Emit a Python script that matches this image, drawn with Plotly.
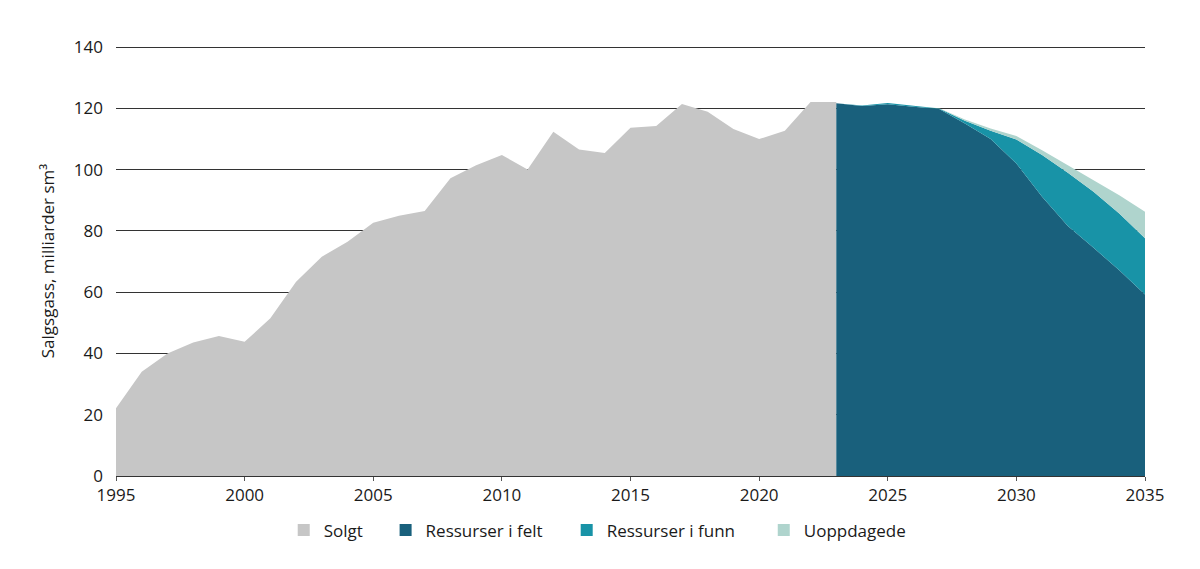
import plotly.graph_objects as go

years_hist = list(range(1995, 2024))
solgt = [22.1, 34.0, 40.0, 43.6, 45.7, 43.8, 51.5, 63.4, 71.6, 76.5,
         82.7, 85.0, 86.5, 97.2, 101.5, 104.8, 100.1, 112.4, 106.6, 105.5,
         113.7, 114.3, 121.5, 118.9, 113.3, 110.0, 112.7, 122.1, 122.1]

years_fut = list(range(2023, 2036))
felt = [121.7, 120.8, 121.4, 120.6, 119.8, 115.1, 110.0, 102.0, 91.2, 81.6, 74.5, 67.2, 59.3]
funn = [0.0, 0.2, 0.4, 0.3, 0.2, 0.9, 2.7, 7.9, 13.6, 17.4, 18.3, 18.5, 18.3]
uoppdagede = [0.0, 0.0, 0.0, 0.0, 0.1, 0.4, 0.8, 1.1, 1.6, 2.5, 3.8, 6.0, 8.7]

series_names = ["Solgt", "Ressurser i felt", "Ressurser i funn", "Uoppdagede"]
x_ticks = list(range(1995, 2036, 5))
y_ticks = list(range(0, 141, 20))

c_grey = "#c6c6c6"
c_felt = "#19607c"
c_funn = "#1893a7"
c_uopp = "#afd4cd"
colors = [c_grey, c_felt, c_funn, c_uopp]

fig = go.Figure()
fig.add_trace(go.Scatter(x=years_hist, y=solgt, name=series_names[0], mode="none",
                         fill="tozeroy", fillcolor=c_grey, showlegend=False))
fig.add_trace(go.Scatter(x=years_fut, y=felt, name=series_names[1], mode="none",
                         stackgroup="f", fillcolor=c_felt, showlegend=False))
fig.add_trace(go.Scatter(x=years_fut, y=funn, name=series_names[2], mode="none",
                         stackgroup="f", fillcolor=c_funn, showlegend=False))
fig.add_trace(go.Scatter(x=years_fut, y=uoppdagede, name=series_names[3], mode="none",
                         stackgroup="f", fillcolor=c_uopp, showlegend=False))

# legend swatches (square markers), one legend per entry for exact placement
legend_ids = ["legend", "legend2", "legend3", "legend4"]
legend_x = [0.163, 0.262, 0.438, 0.6295]
for nm, col, lid in zip(series_names, colors, legend_ids):
    fig.add_trace(go.Scatter(x=[None], y=[None], name=nm, mode="markers",
                             marker=dict(symbol="square", size=12, color=col),
                             showlegend=True, legend=lid))

font_family = "Open Sans, Noto Sans, sans-serif"
legend_common = dict(orientation="h", y=-0.085, xanchor="left", yanchor="top",
                     font=dict(size=17), bgcolor="rgba(0,0,0,0)")
fig.update_layout(
    width=1200, height=569,
    margin=dict(l=108, r=63, t=38, b=101),
    paper_bgcolor="white", plot_bgcolor="white",
    font=dict(family=font_family, size=17, color="#1a1a1a"),
    showlegend=True,
    legend=dict(x=legend_x[0], **legend_common),
    legend2=dict(x=legend_x[1], **legend_common),
    legend3=dict(x=legend_x[2], **legend_common),
    legend4=dict(x=legend_x[3], **legend_common),
    xaxis=dict(range=[1995, 2035], tickvals=x_ticks, showgrid=False,
               showline=True, linecolor="#333333", linewidth=1,
               ticks="outside", ticklen=4, tickcolor="#555555",
               zeroline=False, tickfont=dict(size=17)),
    yaxis=dict(range=[0, 140.4], tickvals=y_ticks, showgrid=True,
               gridcolor="#333333", gridwidth=1, zeroline=False,
               showline=False, ticks="", ticklabelstandoff=12,
               title=dict(text="Salgsgass, milliarder sm³", standoff=14, font=dict(size=17)),
               tickfont=dict(size=17)),
)

fig.write_html("out.html")
